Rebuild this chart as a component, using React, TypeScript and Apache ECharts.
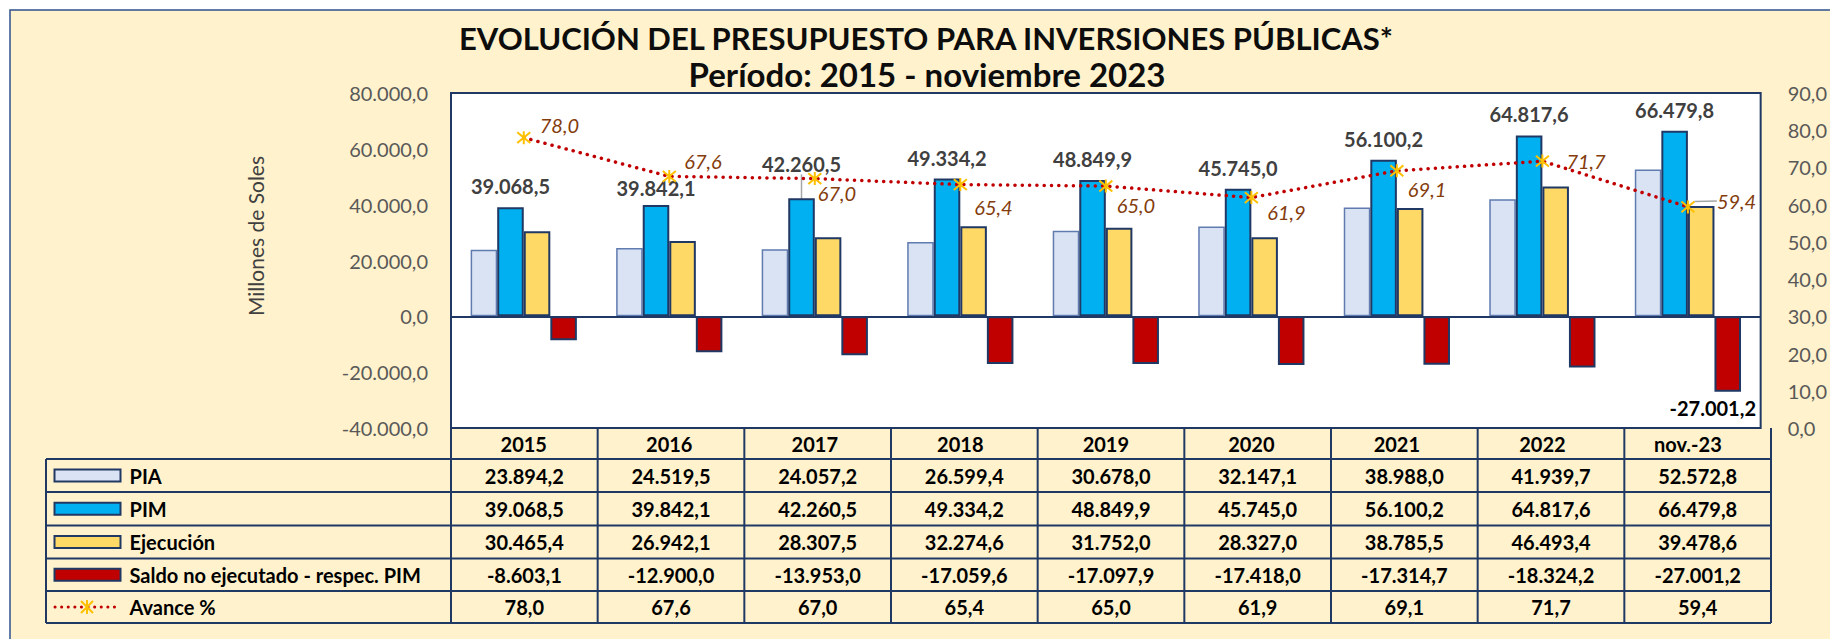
import React, { useEffect, useRef } from "react";
import * as echarts from "echarts";

const CATEGORIES = ["2015", "2016", "2017", "2018", "2019", "2020", "2021", "2022", "nov.-23"];
const PIA = [23894.2, 24519.5, 24057.2, 26599.4, 30678.0, 32147.1, 38988.0, 41939.7, 52572.8];
const PIM = [39068.5, 39842.1, 42260.5, 49334.2, 48849.9, 45745.0, 56100.2, 64817.6, 66479.8];
const EJECUCION = [30465.4, 26942.1, 28307.5, 32274.6, 31752.0, 28327.0, 38785.5, 46493.4, 39478.6];
const SALDO = [-8603.1, -12900.0, -13953.0, -17059.6, -17097.9, -17418.0, -17314.7, -18324.2, -27001.2];
const AVANCE = [78.0, 67.6, 67.0, 65.4, 65.0, 61.9, 69.1, 71.7, 59.4];

const SERIES_NAMES = ["PIA", "PIM", "Ejecución", "Saldo no ejecutado - respec. PIM", "Avance %"];
const LEFT_MIN = -40000, LEFT_MAX = 80000, LEFT_STEP = 20000;
const RIGHT_MIN = 0, RIGHT_MAX = 90, RIGHT_STEP = 10;

const TITLE = "EVOLUCIÓN DEL PRESUPUESTO PARA INVERSIONES PÚBLICAS*";
const SUBTITLE = "Período: 2015 - noviembre 2023";
const Y_NAME = "Millones de Soles";

// layout / style (not data)
const W = 1830, H = 639;
const GL = 451, GR = 1771, GT = 93, GB = 428;
const CW = (GR - GL) / 9;
const ROW_LINES = [459, 492, 525.5, 558.5, 591, 623];
const FONT = "Lato, 'Open Sans', sans-serif";
const NAVY = "#203864";
const COLORS = ["#DAE3F3", "#00B0F0", "#FFD966", "#C00000"];
const BORDERS = ["#5F7BB0", NAVY, NAVY, NAVY];
const PIM_LABEL_DY = [0, 4, -13, 0, 0, 0, 0, 0, 0];
const LINE_LABEL_POS = [[15, -13], [14, -15], [2, 14], [13, 22], [10, 19], [15, 14], [10, 18], [23, 0], [28, -6]];
const SYMBOL = 6.5;

function fmt(n: number): string {
  const s = Math.abs(n).toFixed(1);
  const [i, f] = s.split(".");
  return (n < 0 ? "-" : "") + i.replace(/\B(?=(\d{3})+(?!\d))/g, ".") + "," + f;
}

export default function App() {
  const ref = useRef<HTMLDivElement>(null);
  useEffect(() => {
    document.body.style.margin = "0";
    const chart = echarts.init(ref.current!, undefined, { renderer: "svg" });

    const graphics: any[] = [];
    graphics.push({
      type: "rect", z: -100, silent: true,
      shape: { x: 10, y: 10, width: W + 20, height: H + 20 },
      style: { fill: "#FFF2CC", stroke: "#2F528F", lineWidth: 1.5 },
    });
    graphics.push({
      type: "text", x: 926, y: 38,
      style: { text: TITLE, font: `bold 31px ${FONT}`, fill: "#0D0D0D", textAlign: "center", textVerticalAlign: "middle" },
    });
    graphics.push({
      type: "text", x: 927, y: 74,
      style: { text: SUBTITLE, font: `bold 33px ${FONT}`, fill: "#0D0D0D", textAlign: "center", textVerticalAlign: "middle" },
    });
    graphics.push({
      type: "text", x: 255, y: 236, rotation: Math.PI / 2,
      style: { text: Y_NAME, font: `21px ${FONT}`, fill: "#404040", textAlign: "center", textVerticalAlign: "middle" },
    });

    // table lines
    const lineStyle = { stroke: NAVY, lineWidth: 2 };
    ROW_LINES.forEach((y) => {
      graphics.push({ type: "line", shape: { x1: 46, y1: y, x2: GR, y2: y }, style: lineStyle, z: 5 });
    });
    graphics.push({ type: "line", shape: { x1: 46, y1: ROW_LINES[0], x2: 46, y2: ROW_LINES[5] }, style: lineStyle, z: 5 });
    for (let k = 0; k <= 9; k++) {
      const x = GL + k * CW;
      graphics.push({ type: "line", shape: { x1: x, y1: GB, x2: x, y2: ROW_LINES[5] }, style: lineStyle, z: 5 });
    }
    const rows = [PIA, PIM, EJECUCION, SALDO, AVANCE];
    rows.forEach((arr, r) => {
      const cy = (ROW_LINES[r] + ROW_LINES[r + 1]) / 2;
      arr.forEach((v, i) => {
        graphics.push({
          type: "text", x: GL + (i + 0.5) * CW, y: cy, z: 6,
          style: { text: fmt(v), font: `bold 20px ${FONT}`, fill: "#000", textAlign: "center", textVerticalAlign: "middle" },
        });
      });
      // legend
      if (r < 4) {
        graphics.push({
          type: "rect", z: 6, shape: { x: 54.5, y: cy - 6, width: 66, height: 12 },
          style: { fill: COLORS[r], stroke: NAVY, lineWidth: 2 },
        });
      } else {
        graphics.push({
          type: "line", z: 6, shape: { x1: 55, y1: cy, x2: 120, y2: cy },
          style: { stroke: "#C00000", lineWidth: 3, lineDash: [0.1, 6.5], lineCap: "round" },
        });
        const a = 6;
        graphics.push({ type: "line", z: 7, shape: { x1: 87 - a, y1: cy - a, x2: 87 + a, y2: cy + a }, style: { stroke: "#FFC000", lineWidth: 2 } });
        graphics.push({ type: "line", z: 7, shape: { x1: 87 - a, y1: cy + a, x2: 87 + a, y2: cy - a }, style: { stroke: "#FFC000", lineWidth: 2 } });
        graphics.push({ type: "line", z: 7, shape: { x1: 87, y1: cy - a - 1, x2: 87, y2: cy + a + 1 }, style: { stroke: "#FFC000", lineWidth: 2 } });
      }
      graphics.push({
        type: "text", x: 129.5, y: cy, z: 6,
        style: { text: SERIES_NAMES[r], font: `bold 20px ${FONT}`, fill: "#000", textAlign: "left", textVerticalAlign: "middle" },
      });
    });

    const barBase = (idx: number) => ({
      type: "bar",
      name: SERIES_NAMES[idx],
      barGap: "0%",
      barCategoryGap: "27%",
      itemStyle: { color: COLORS[idx], borderColor: BORDERS[idx], borderWidth: idx === 0 ? 1.5 : 2 },
      z: 3,
    });

    const option: any = {
      animation: false,
      backgroundColor: "#FFFFFF",
      textStyle: { fontFamily: FONT },
      grid: {
        left: GL, right: W - GR, top: GT, bottom: H - GB,
        show: true, backgroundColor: "#FFFFFF", borderColor: NAVY, borderWidth: 2,
      },
      graphic: graphics,
      xAxis: {
        type: "category", data: CATEGORIES,
        axisLine: { show: false, onZero: false }, axisTick: { show: false },
        axisLabel: { fontSize: 20, fontWeight: "bold", color: "#000", margin: 6, lineHeight: 20, fontFamily: FONT },
        splitLine: { show: false },
      },
      yAxis: [
        {
          type: "value", min: LEFT_MIN, max: LEFT_MAX, interval: LEFT_STEP,
          axisLine: { show: false }, axisTick: { show: false }, splitLine: { show: false },
          axisLabel: { fontSize: 20, color: "#595959", margin: 23, formatter: (v: number) => fmt(v), fontFamily: FONT },
        },
        {
          type: "value", min: RIGHT_MIN, max: RIGHT_MAX, interval: RIGHT_STEP, position: "right",
          axisLine: { show: false }, axisTick: { show: false }, splitLine: { show: false },
          axisLabel: { fontSize: 20, color: "#595959", margin: 27, formatter: (v: number) => fmt(v), fontFamily: FONT },
        },
      ],
      series: [
        {
          ...barBase(0), data: PIA,
          markLine: {
            silent: true, symbol: ["none", "none"], label: { show: false },
            lineStyle: { color: NAVY, width: 2, type: "solid" },
            data: [{ yAxis: 0 }],
          },
        },
        {
          ...barBase(1),
          data: PIM.map((v, i) => (i === 2 ? { value: v, labelLine: { show: true, lineStyle: { color: "#A6A6A6", width: 1.5 } } } : v)),
          label: {
            show: true, position: "top", distance: 11, fontSize: 20, fontWeight: "bold", color: "#404040",
            fontFamily: FONT, formatter: (p: any) => fmt(p.value),
          },
          labelLine: { show: false },
          labelLayout: (p: any) => (PIM_LABEL_DY[p.dataIndex] ? { dy: PIM_LABEL_DY[p.dataIndex] } : {}),
        },
        { ...barBase(2), data: EJECUCION },
        {
          ...barBase(3),
          data: SALDO.map((v, i) =>
            i === SALDO.length - 1
              ? {
                  value: v,
                  label: {
                    show: true, position: "outside", distance: 6, offset: [-15, 0], fontSize: 20, fontWeight: "bold",
                    color: "#000", fontFamily: FONT, formatter: (p: any) => fmt(p.value),
                  },
                }
              : v
          ),
          label: { show: false },
        },
        {
          type: "line", name: SERIES_NAMES[4], yAxisIndex: 1, z: 10,
          data: AVANCE.map((v, i) =>
            i === AVANCE.length - 1 ? { value: v, labelLine: { show: true, lineStyle: { color: "#A6A6A6", width: 1.5 } } } : v
          ),
          symbol: "path://M0,0L10,10M10,0L0,10M5,-1L5,11",
          symbolSize: 13,
          itemStyle: { color: "#FFC000", borderColor: "#FFC000", borderWidth: 2 },
          lineStyle: { color: "#C00000", width: 3.5, type: [0.1, 7.2], cap: "round" },
          label: {
            show: true, position: "right", distance: 0, fontSize: 20, fontStyle: "italic", color: "#843C0C",
            fontFamily: FONT, formatter: (p: any) => fmt(p.value),
          },
          labelLine: { show: false },
          labelLayout: (p: any) => ({
            dx: LINE_LABEL_POS[p.dataIndex][0] - SYMBOL,
            dy: LINE_LABEL_POS[p.dataIndex][1],
          }),
        },
      ],
    };
    chart.setOption(option);
    return () => chart.dispose();
  }, []);
  return <div ref={ref} style={{ width: W, height: H }} />;
}
